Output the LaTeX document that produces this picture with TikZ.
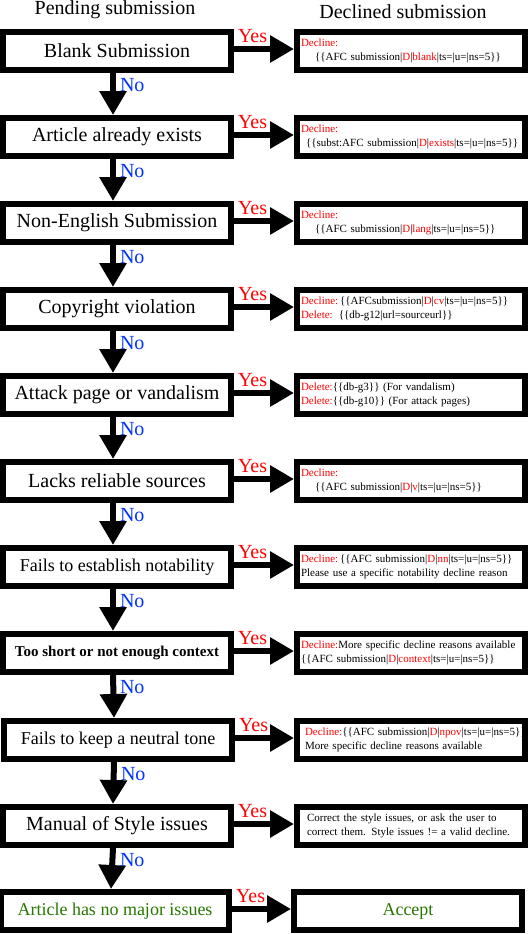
\documentclass[tikz,border=0pt]{standalone}
\usepackage{xcolor}
\usepackage{fontspec}
\setmainfont{Liberation Serif}
\usetikzlibrary{arrows.meta}
\definecolor{noblue}{RGB}{0,51,255}
\definecolor{okgreen}{RGB}{40,120,0}
\newcommand{\rtxt}[1]{\textcolor{red}{#1}}
\newcommand{\tmplopen}{\{\{}
\newcommand{\tmplclose}{\}\}}

\begin{document}
\begin{tikzpicture}[x=1pt,y=1pt,
  check/.style={draw,line width=6pt,fill=white,minimum width=228pt,
    minimum height=38pt,inner sep=0pt,font=\fontsize{20}{24}\selectfont},
  result/.style={draw,line width=6pt,fill=white,minimum width=228pt,
    minimum height=38pt,inner sep=0pt,text width=220pt,align=left,
    font=\fontsize{11}{13.5}\selectfont},
  yes/.style={line width=6pt,-{Triangle[length=24pt,width=26pt]}},
  no/.style={line width=6pt,-{Triangle[length=24pt,width=26pt]}},
  yeslbl/.style={anchor=south west,inner sep=1pt,yshift=2pt,text=red,
    font=\fontsize{20}{24}\selectfont},
  nolbl/.style={anchor=north west,inner sep=0pt,xshift=4pt,yshift=-2pt,
    text=noblue,font=\fontsize{20}{24}\selectfont},
  head/.style={anchor=base,inner sep=0pt,font=\fontsize{20}{24}\selectfont}]
  \useasboundingbox (0,0) rectangle (531,-934);

  % column titles
  \node[head] (pending) at (115,-15) {Pending submission};
  \node[head] (declined) at (403,-19) {Declined submission};

  % checks
  \node[check] (blank)   at (117,-51)  {Blank Submission};
  \node[check] (exists)  at (117,-137) {Article already exists};
  \node[check] (lang)    at (117,-223) {Non-English Submission};
  \node[check] (copyvio) at (117,-309) {Copyright violation};
  \node[check] (attack)  at (117,-395) {Attack page or vandalism};
  \node[check] (sources) at (117,-481) {Lacks reliable sources};
  \node[check,font=\fontsize{18}{22}\selectfont] (notable) at (117,-567)
    {Fails to establish notability};
  \node[check,font=\fontsize{15}{18}\selectfont\bfseries] (context) at (117,-653)
    {Too short or not enough context};
  \node[check,font=\fontsize{18}{22}\selectfont] (npov) at (118,-740)
    {Fails to keep a neutral tone};
  \node[check] (mos)     at (117,-826) {Manual of Style issues};
  \node[check,font=\fontsize{18}{22}\selectfont,text=okgreen] (fine) at (115,-911)
    {Article has no major issues};

  % outcomes
  \node[result] (blankD) at (411,-51)
    {\rtxt{Decline:}\\\hspace*{14pt}\tmplopen AFC submission|\rtxt{D}|\rtxt{blank}|ts=|u=|ns=5\tmplclose};
  \node[result] (existsD) at (411,-137)
    {\rtxt{Decline:}\\\hspace*{5pt}\tmplopen subst:AFC submission|\rtxt{D}|\rtxt{exists}|ts=|u=|ns=5\tmplclose};
  \node[result] (langD) at (411,-223)
    {\rtxt{Decline:}\\\hspace*{14pt}\tmplopen AFC submission|\rtxt{D}|\rtxt{lang}|ts=|u=|ns=5\tmplclose};
  \node[result] (copyvioD) at (411,-309)
    {\rtxt{Decline:}\,\tmplopen AFCsubmission|\rtxt{D}|\rtxt{cv}|ts=|u=|ns=5\tmplclose\\
     \rtxt{Delete:}\hspace{6pt}\tmplopen db-g12|url=sourceurl\tmplclose};
  \node[result] (attackD) at (411,-395)
    {\rtxt{Delete:}\tmplopen db-g3\tmplclose{} (For vandalism)\\
     \rtxt{Delete:}\tmplopen db-g10\tmplclose{} (For attack pages)};
  \node[result] (sourcesD) at (411,-481)
    {\rtxt{Decline:}\\\hspace*{14pt}\tmplopen AFC submission|\rtxt{D}|\rtxt{v}|ts=|u=|ns=5\tmplclose};
  \node[result] (notableD) at (411,-567)
    {\rtxt{Decline:}\,\tmplopen AFC submission|\rtxt{D}|\rtxt{nn}|ts=|u=|ns=5\tmplclose\\
     Please use a specific notability decline reason};
  \node[result] (contextD) at (411,-653)
    {\rtxt{Decline:}More specific decline reasons available\\
     \tmplopen AFC submission|\rtxt{D}|\rtxt{context}|ts=|u=|ns=5\tmplclose};
  \node[result] (npovD) at (411,-740)
    {\mbox{\hspace*{4pt}\rtxt{Decline:}\tmplopen AFC submission|\rtxt{D}|\rtxt{npov}|ts=|u=|ns=5\tmplclose}\\
     \hspace*{4pt}More specific decline reasons available};
  \node[result] (mosD) at (411,-826)
    {\hspace*{6pt}Correct the style issues, or ask the user to\\
     \hspace*{6pt}correct them. Style issues != a valid decline.};
  \node[result,align=center,text=okgreen,font=\fontsize{18}{22}\selectfont] (accept)
    at (408,-911) {Accept};

  % yes arrows
  \draw[yes] ([yshift=2pt]blank.east) -- ([yshift=2pt]blankD.west) node[yeslbl,pos=0] {Yes};
  \draw[yes] ([yshift=2pt]exists.east) -- ([yshift=2pt]existsD.west) node[yeslbl,pos=0] {Yes};
  \draw[yes] ([yshift=2pt]lang.east) -- ([yshift=2pt]langD.west) node[yeslbl,pos=0] {Yes};
  \draw[yes] ([yshift=2pt]copyvio.east) -- ([yshift=2pt]copyvioD.west) node[yeslbl,pos=0] {Yes};
  \draw[yes] ([yshift=2pt]attack.east) -- ([yshift=2pt]attackD.west) node[yeslbl,pos=0] {Yes};
  \draw[yes] ([yshift=2pt]sources.east) -- ([yshift=2pt]sourcesD.west) node[yeslbl,pos=0] {Yes};
  \draw[yes] ([yshift=2pt]notable.east) -- ([yshift=2pt]notableD.west) node[yeslbl,pos=0] {Yes};
  \draw[yes] ([yshift=2pt]context.east) -- ([yshift=2pt]contextD.west) node[yeslbl,pos=0] {Yes};
  \draw[yes] ([yshift=2pt]npov.east) -- ([yshift=2pt]npovD.west) node[yeslbl,pos=0] {Yes};
  \draw[yes] ([yshift=2pt]mos.east) -- ([yshift=2pt]mosD.west) node[yeslbl,pos=0] {Yes};
  \draw[yes] ([yshift=2pt]fine.east) -- ([yshift=2pt]accept.west) node[yeslbl,pos=0] {Yes};

  % no arrows
  \draw[no] ([xshift=-4pt]blank.south) -- ([xshift=-4pt]exists.north) node[nolbl,pos=0] {No};
  \draw[no] ([xshift=-4pt]exists.south) -- ([xshift=-4pt]lang.north) node[nolbl,pos=0] {No};
  \draw[no] ([xshift=-4pt]lang.south) -- ([xshift=-4pt]copyvio.north) node[nolbl,pos=0] {No};
  \draw[no] ([xshift=-4pt]copyvio.south) -- ([xshift=-4pt]attack.north) node[nolbl,pos=0] {No};
  \draw[no] ([xshift=-4pt]attack.south) -- ([xshift=-4pt]sources.north) node[nolbl,pos=0] {No};
  \draw[no] ([xshift=-4pt]sources.south) -- ([xshift=-4pt]notable.north) node[nolbl,pos=0] {No};
  \draw[no] ([xshift=-4pt]notable.south) -- ([xshift=-4pt]context.north) node[nolbl,pos=0] {No};
  \draw[no] ([xshift=-4pt]context.south) -- ([xshift=-4pt]npov.north) node[nolbl,pos=0] {No};
  \draw[no] ([xshift=-4pt]npov.south) -- ([xshift=-4pt]mos.north) node[nolbl,pos=0] {No};
  \draw[no] ([xshift=-4pt]mos.south) -- ([xshift=-4pt]fine.north) node[nolbl,pos=0] {No};
\end{tikzpicture}
\end{document}
